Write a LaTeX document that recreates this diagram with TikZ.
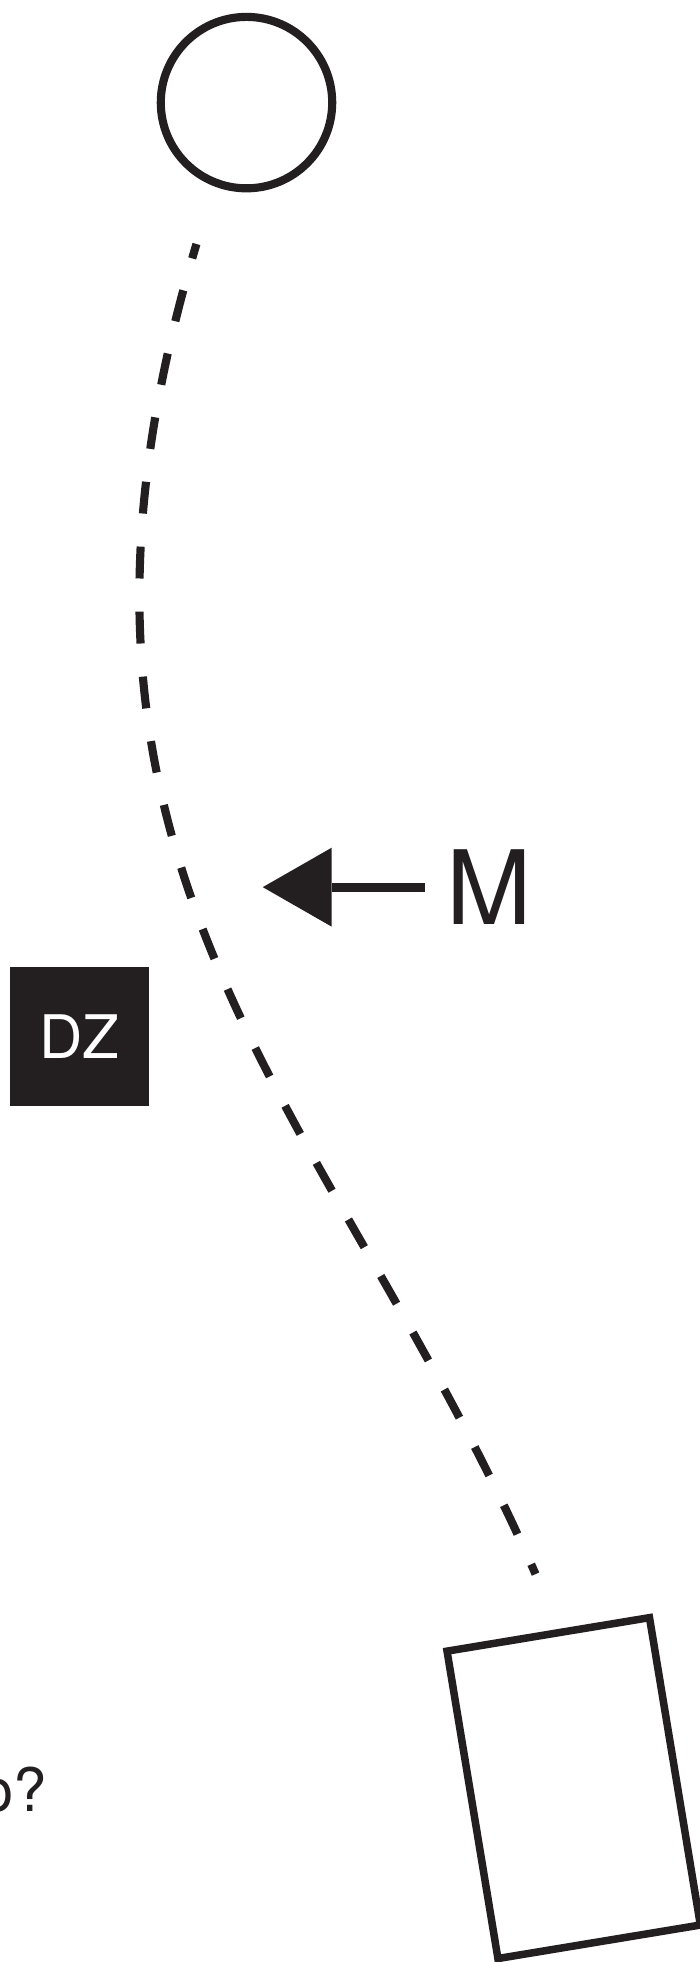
\documentclass[tikz,border=0pt]{standalone}
\usepackage{fontspec}
\setmainfont{TeX Gyre Heros}
\usetikzlibrary{arrows.meta,positioning}
\definecolor{ink}{RGB}{35,31,32}

\begin{document}
\begin{tikzpicture}[x=1pt,y=-1pt,
    ball/.style={circle,draw=ink,line width=6.5pt,minimum size=137pt,inner sep=0pt},
    box/.style={rectangle,draw=ink,line width=6pt,minimum width=164pt,minimum height=249pt,inner sep=0pt,rotate=9.4},
    tag/.style={rectangle,fill=ink,text=white,minimum size=111pt,inner sep=0pt,font=\fontsize{48}{48}\selectfont},
    route/.style={draw=ink,line width=6.5pt,dash pattern=on 25.5pt off 26.5pt,dash phase=13.5pt},
    push/.style={draw=ink,line width=7pt,-{Triangle[length=55pt,width=63pt,line width=0pt]}}]

    \useasboundingbox (0,0) rectangle (559.4,1568);

	\node[ball] (ball) at (197,82) {}; % labda
	\node[box] (box) at (458.5,1429) {}; % kapu
	\node[tag] (dz) at (63.5,828.5) {DZ};
	\node[inner sep=0pt,text=ink,font=\fontsize{82}{82}\selectfont] (m) at (391,709) {M};
	\node[anchor=base east,inner sep=0pt,text=ink,font=\fontsize{48}{48}\selectfont] (q) at (38,1448) {o?};

	\coordinate (top) at (157,195);
	\coordinate (bot) at (428,1258);
	\coordinate (tip) at (210,709);

	\draw[route] (top) .. controls (7,695) and (261,878) .. (bot); % pálya
	\draw[push,shorten <=17pt] (m.west) -- (tip); % lökés

  \end{tikzpicture}
\end{document}
